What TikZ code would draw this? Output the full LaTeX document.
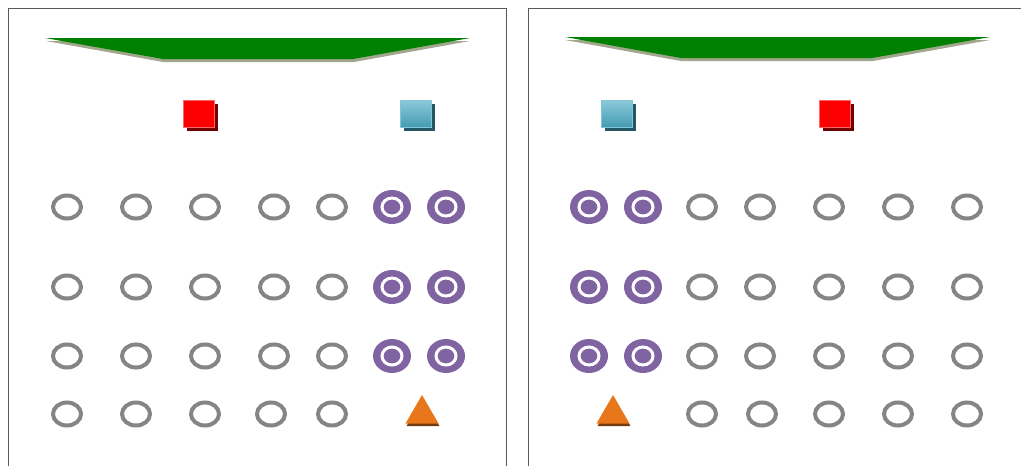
\documentclass[tikz,border=0pt]{standalone}
\usetikzlibrary{shapes.geometric,shadows}
\definecolor{traygreen}{HTML}{008000}
\definecolor{trayshade}{HTML}{A0A78C}
\definecolor{ringgray}{HTML}{858585}
\definecolor{seatpurple}{HTML}{8064A2}
\definecolor{boxred}{HTML}{FF0000}
\definecolor{boxteal}{HTML}{4BACC6}
\definecolor{triorange}{HTML}{E8761B}

\tikzset{
  ring/.style={ellipse, draw=ringgray, line width=4pt, minimum width=28pt,
    minimum height=23pt, inner sep=0pt},
  seat/.style={ellipse, fill=seatpurple, minimum width=38pt, minimum height=34pt,
    inner sep=0pt, path picture={\draw[white, line width=3pt]
      (path picture bounding box.center) ellipse (10pt and 9pt);}},
  redbox/.style={rectangle, fill=boxred, draw=boxred!60!white, line width=0.6pt,
    minimum width=31pt, minimum height=27pt, inner sep=0pt,
    drop shadow={shadow xshift=3pt, shadow yshift=-3pt, fill=boxred!45!black, opacity=1}},
  tealbox/.style={rectangle, top color=boxteal!65!white, bottom color=boxteal!90!black,
    draw=boxteal!70!white, line width=0.6pt,
    minimum width=31pt, minimum height=27pt, inner sep=0pt,
    drop shadow={shadow xshift=3pt, shadow yshift=-3pt, fill=boxteal!50!black, opacity=1}},
  cone/.style={regular polygon, regular polygon sides=3, fill=triorange,
    minimum size=38pt, inner sep=0pt,
    drop shadow={shadow xshift=1pt, shadow yshift=-2.5pt, fill=triorange!50!black, opacity=1}},
  panel/.style={draw=black!65, line width=0.8pt}
}

\begin{document}
\begin{tikzpicture}[x=1pt,y=-1pt]
\useasboundingbox (0,0) rectangle (1021,466);
\clip (0,0) rectangle (1021,466);

% panels
\draw[panel] (8,480)--(8,8)--(506,8)--(506,480);
\draw[panel] (528,480)--(528,8)--(1030,8);

% left panel
\fill[trayshade] (46,41)--(470,41)--(354,62)--(163,62)--cycle;
\fill[traygreen] (45,38)--(470,38)--(353,59)--(163,59)--cycle;

\node[redbox]  (lred)  at (199,114) {};
\node[tealbox] (lteal) at (416,114) {};

\foreach \r/\y in {1/207,2/287,3/356} {
  \foreach \c/\x in {1/67,2/136,3/205,4/274,5/332}
    \node[ring] (l\r\c) at (\x,\y) {};
  \node[seat] (l\r6) at (392,\y) {};
  \node[seat] (l\r7) at (446,\y) {};
}
\foreach \c/\x in {1/67,2/136,3/205,4/271,5/332}
  \node[ring] (l4\c) at (\x,414) {};
\node[cone] (lcone) at (422,414) {};

% right panel
\fill[trayshade] (565,40)--(990,40)--(873,61)--(681,61)--cycle;
\fill[traygreen] (565,37)--(990,37)--(872,58)--(681,58)--cycle;

\node[tealbox] (rteal) at (617,114) {};
\node[redbox]  (rred)  at (835,114) {};

\foreach \r/\y in {1/207,2/287,3/356} {
  \node[seat] (r\r1) at (589,\y) {};
  \node[seat] (r\r2) at (643,\y) {};
  \foreach \c/\x in {3/702,4/760,5/829,6/898,7/967}
    \node[ring] (r\r\c) at (\x,\y) {};
}
\node[cone] (rcone) at (613,414) {};
\foreach \c/\x in {3/702,4/762,5/829,6/898,7/967}
  \node[ring] (r4\c) at (\x,414) {};

\end{tikzpicture}
\end{document}
